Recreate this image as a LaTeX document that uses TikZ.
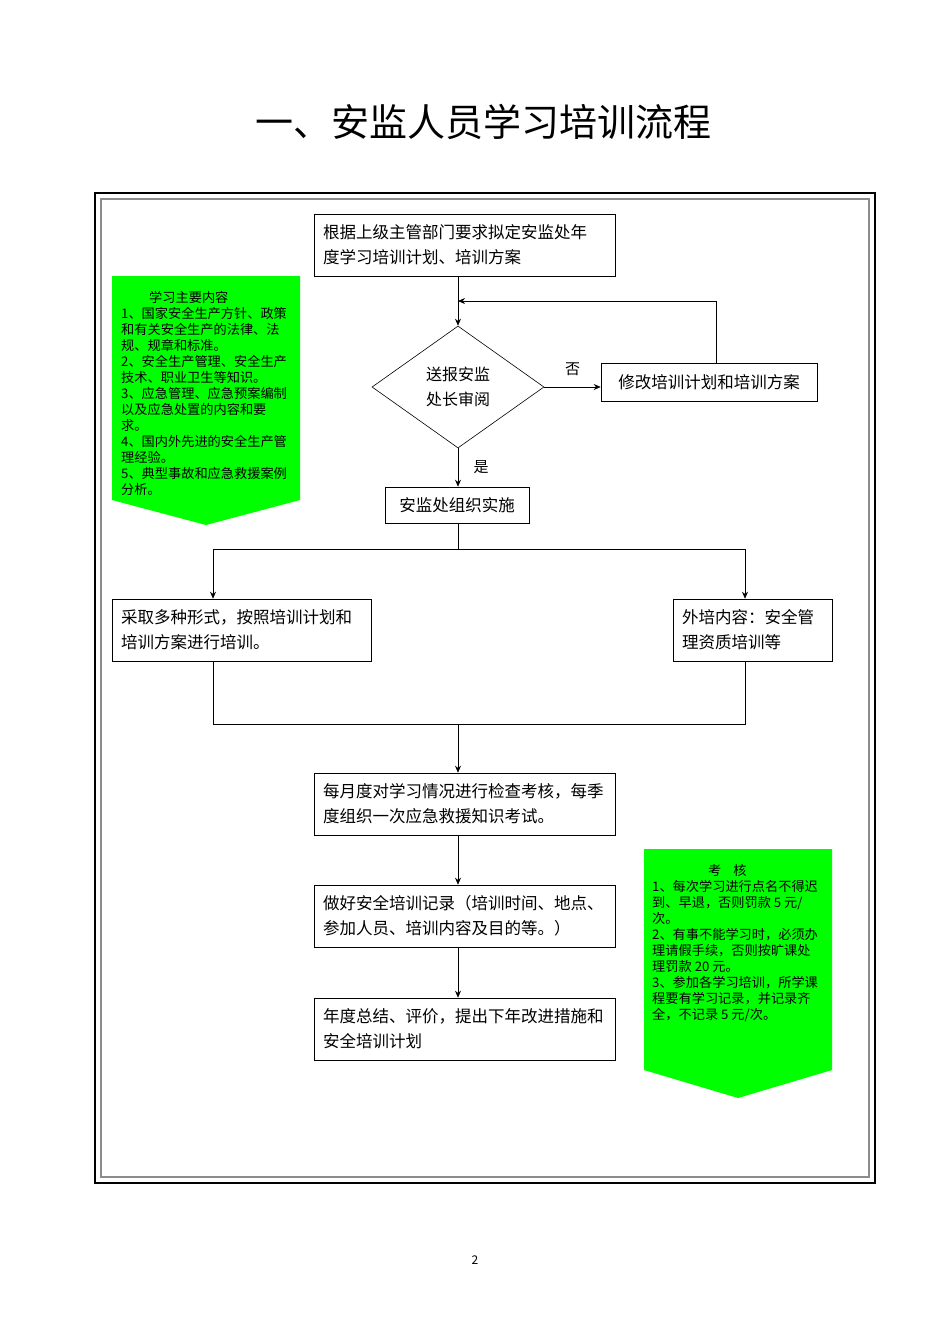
\documentclass[tikz,border=0pt]{standalone}
\usepackage{fontspec}
\setmainfont{Noto Sans CJK SC}
\usetikzlibrary{shapes.geometric,arrows.meta}
\begin{document}
\begin{tikzpicture}[x=1pt,y=-1pt]
	\tikzset{
		box/.style={draw=black,semithick,fill=white,align=left,font=\fontsize{16.5}{25}\selectfont,inner sep=0pt},
		flow/.style={-{Stealth[length=7pt,width=6pt]},semithick},
		line/.style={semithick},
		note/.style={font=\fontsize{13.2}{16}\selectfont,align=left,anchor=north west,inner sep=0pt}
	}
	\useasboundingbox (0,0) rectangle (950,1344);
	\node[font=\fontsize{38}{40}\selectfont] (title) at (483,122) {一、安监人员学习培训流程};
	% frame
	\draw[line width=1.5pt] (95,193) rectangle (875,1183);
	\draw[line width=2pt,black!45] (101,199) rectangle (869,1177);
	% green notes
	\fill[green] (112,276) -- (300,276) -- (300,500) -- (206,525) -- (112,500) -- cycle;
	\node[note] (study) at (121,291) {\hspace*{28pt}学习主要内容\\1、国家安全生产方针、政策\\和有关安全生产的法律、法\\规、规章和标准。\\2、安全生产管理、安全生产\\技术、职业卫生等知识。\\3、应急管理、应急预案编制\\以及应急处置的内容和要\\求。\\4、国内外先进的安全生产管\\理经验。\\5、典型事故和应急救援案例\\分析。};
	\fill[green] (644,849) -- (832,849) -- (832,1070) -- (738,1098) -- (644,1070) -- cycle;
	\node[note] (check) at (652,864) {\hspace*{56pt}考\hspace{12pt}核\\1、每次学习进行点名不得迟\\到、早退，否则罚款 5 元/\\次。\\2、有事不能学习时，必须办\\理请假手续，否则按旷课处\\理罚款 20 元。\\3、参加各学习培训，所学课\\程要有学习记录，并记录齐\\全，不记录 5 元/次。};
	% boxes
	\node[box,minimum width=301pt,minimum height=62pt,text width=283pt] (plan) at (464.5,245) {根据上级主管部门要求拟定安监处年\\度学习培训计划、培训方案};
	\node[draw,semithick,diamond,aspect=1.41,minimum width=172pt,minimum height=122pt,inner sep=0pt,align=center,font=\fontsize{16}{25}\selectfont] (review) at (458,387) {送报安监\\处长审阅};
	\node[box,minimum width=216pt,minimum height=38pt,align=center] (modify) at (709,382) {修改培训计划和培训方案};
	\node[box,minimum width=144pt,minimum height=36pt,align=center] (impl) at (457,505) {安监处组织实施};
	\node[box,minimum width=259pt,minimum height=62pt,text width=241pt] (inner) at (241.5,630) {采取多种形式，按照培训计划和\\培训方案进行培训。};
	\node[box,minimum width=159pt,minimum height=62pt,text width=141pt] (outer) at (752.5,630) {外培内容：安全管\\理资质培训等};
	\node[box,minimum width=301pt,minimum height=62pt,text width=283pt] (exam) at (464.5,804) {每月度对学习情况进行检查考核，每季\\度组织一次应急救援知识考试。};
	\node[box,minimum width=301pt,minimum height=62pt,text width=283pt] (record) at (464.5,916) {做好安全培训记录（培训时间、地点、\\参加人员、培训内容及目的等。）};
	\node[box,minimum width=301pt,minimum height=62pt,text width=283pt] (summary) at (464.5,1029) {年度总结、评价，提出下年改进措施和\\安全培训计划};
	% coordinates
	\coordinate (loopR) at (716,301);
	\coordinate (loopL) at (458,301);
	\coordinate (split) at (458,549);
	\coordinate (splitL) at (213,549);
	\coordinate (splitR) at (745,549);
	\coordinate (joinL) at (213,724);
	\coordinate (joinR) at (745,724);
	\coordinate (join) at (458,724);
	% connectors
	\draw[flow] (plan.south -| review.north) -- (review.north);
	\draw[flow] (review.east) -- node[above=8pt,font=\fontsize{15}{16}\selectfont] (no) {否} (review.east -| modify.west);
	\draw[flow] (modify.north -| loopR) -- (loopR) -- (loopL);
	\draw[flow] (review.south) -- node[right=12pt,font=\fontsize{15}{16}\selectfont] (yes) {是} (review.south |- impl.north);
	\draw[line] (impl.south -| split) -- (split);
	\draw[line] (splitL) -- (splitR);
	\draw[flow] (splitL) -- (splitL |- inner.north);
	\draw[flow] (splitR) -- (splitR |- outer.north);
	\draw[line] (inner.south -| joinL) -- (joinL) -- (joinR) -- (outer.south -| joinR);
	\draw[flow] (join) -- (join |- exam.north);
	\draw[flow] (exam.south -| join) -- (join |- record.north);
	\draw[flow] (record.south -| join) -- (join |- summary.north);
	\node[font=\fontsize{12}{14}\selectfont] (page) at (475,1260) {2};
\end{tikzpicture}
\end{document}
